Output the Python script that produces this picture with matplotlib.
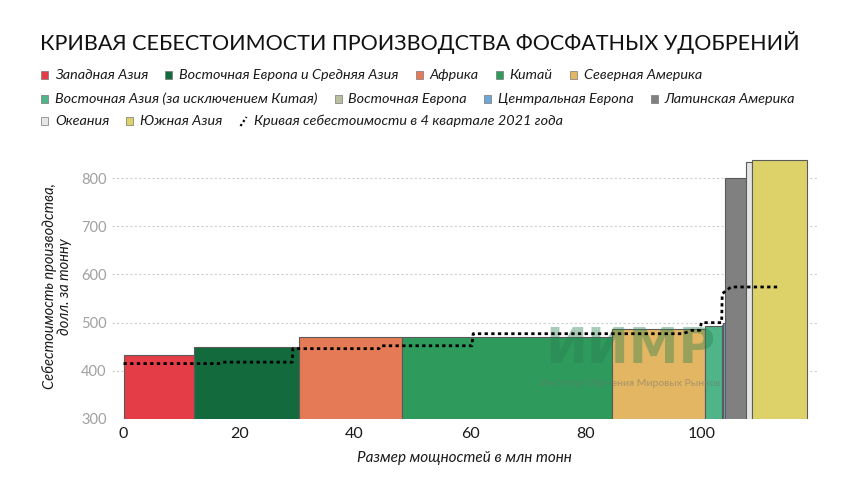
import matplotlib
matplotlib.use("Agg")
import matplotlib.pyplot as plt
from matplotlib.patches import Rectangle
from matplotlib.lines import Line2D

# ---------------- data ----------------
regions = ["Западная Азия", "Восточная Европа и Средняя Азия", "Африка", "Китай",
           "Северная Америка", "Восточная Азия (за исключением Китая)", "Восточная Европа",
           "Центральная Европа", "Латинская Америка", "Океания", "Южная Азия"]
capacity = [12.2, 18.1, 17.9, 36.3, 16.2, 2.9, 0.1, 0.4, 3.7, 0.9, 9.5]   # млн тонн
cost = [433, 450, 470, 470, 486, 494, 496, 500, 801, 834, 837]            # долл./т
colors = ["#e43d48", "#136b3d", "#e57a56", "#2e9a5c", "#e2b662", "#4fb487",
          "#b9bf9f", "#6ea6d6", "#808080", "#e6e6e6", "#ddd26a"]

curve_x = [0, 16.5, 17.0, 29.2, 29.3, 44.2, 44.6, 60.3, 60.5, 96.8, 98.3, 99.7,
           100.0, 103.5, 103.6, 105.1, 113.2]
curve_y = [415, 415, 418, 418, 446, 446, 452, 452, 477, 477, 484, 484,
           500, 500, 560, 574, 574]
curve_label = "Кривая себестоимости в 4 квартале 2021 года"

yticks = [300, 400, 500, 600, 700, 800]
xticks = [0, 20, 40, 60, 80, 100]

FONT = "Lato"
W, H = 860, 488

fig = plt.figure(figsize=(W / 100, H / 100), dpi=100)
fig.patch.set_facecolor("white")

def fx(px):
    return px / W

def fy(py):
    return 1 - py / H

ax = fig.add_axes([fx(112), fy(419), fx(817) - fx(112), fy(154) - fy(419)])
ax.set_xlim(-1.99, 120.0)
ax.set_ylim(300, 850)

starts = [0]
for w in capacity[:-1]:
    starts.append(starts[-1] + w)

ax.bar(starts, cost, width=capacity, align="edge", color=colors,
       edgecolor="#5a5a5a", linewidth=0.8, zorder=3)

ax.plot(curve_x, curve_y, color="black", linestyle=(0, (1.2, 1.2)), linewidth=2.0, zorder=5)

for s in ax.spines.values():
    s.set_visible(False)
ax.set_yticks(yticks)
ax.set_xticks(xticks)
ax.tick_params(length=0)
ax.tick_params(axis="y", colors="#a0a0a0", labelsize=10.5, pad=4)
ax.tick_params(axis="x", colors="#1a1a1a", labelsize=11.5, pad=6)
for lab in ax.get_yticklabels() + ax.get_xticklabels():
    lab.set_fontfamily(FONT)
ax.yaxis.grid(True, color="#cfcfcf", linestyle=(0, (2, 2)), linewidth=0.8, zorder=0)
ax.set_axisbelow(True)

ax.set_xlabel("Размер мощностей в млн тонн", fontsize=11, fontstyle="italic",
              family=FONT, color="#1a1a1a", labelpad=7)
ax.set_ylabel("Себестоимость производства,\nдолл. за тонну", fontsize=10.5,
              fontstyle="italic", family=FONT, color="#1a1a1a", labelpad=6,
              linespacing=1.1)

# watermark
ax.text(0.735, 0.174, "ИИМР", transform=ax.transAxes, fontsize=36, fontweight="bold",
        family="DejaVu Sans", color="#2a8050", alpha=0.4, ha="center", va="bottom", zorder=4)
ax.text(0.735, 0.134, "Институт Изучения Мировых Рынков", transform=ax.transAxes,
        fontsize=7.5, family=FONT, color="#707070", alpha=0.5, ha="center", va="center", zorder=4)

# title
fig.text(fx(40), fy(42), "КРИВАЯ СЕБЕСТОИМОСТИ ПРОИЗВОДСТВА ФОСФАТНЫХ УДОБРЕНИЙ",
         fontsize=15.5, family=FONT, color="#111111", ha="left", va="center")

# legend (manual layout)
rows = [[0, 1, 2, 3, 4], [5, 6, 7, 8], [9, 10, "curve"]]
row_y = [75, 99, 121]
fig.canvas.draw()
renderer = fig.canvas.get_renderer()
sq = 7
for r, items in enumerate(rows):
    x = 41
    yc = row_y[r]
    for it in items:
        if it == "curve":
            fig.add_artist(Line2D([fx(x + 1), fx(x + 7)], [fy(yc + 5), fy(yc - 4)],
                                  transform=fig.transFigure, color="black",
                                  linestyle=(0, (1, 1.2)), linewidth=1.6))
            label = curve_label
        else:
            fig.add_artist(Rectangle((fx(x), fy(yc + sq / 2)), fx(sq), fy(0) - fy(sq),
                                     transform=fig.transFigure, facecolor=colors[it],
                                     edgecolor="#777777", linewidth=0.5))
            label = regions[it]
        t = fig.text(fx(x + 14), fy(yc), label, fontsize=10.4, fontstyle="italic",
                     family=FONT, color="#1a1a1a", ha="left", va="center")
        bb = t.get_window_extent(renderer)
        x = bb.x1 + 17

fig.savefig("out.png", dpi=100, facecolor="white")
